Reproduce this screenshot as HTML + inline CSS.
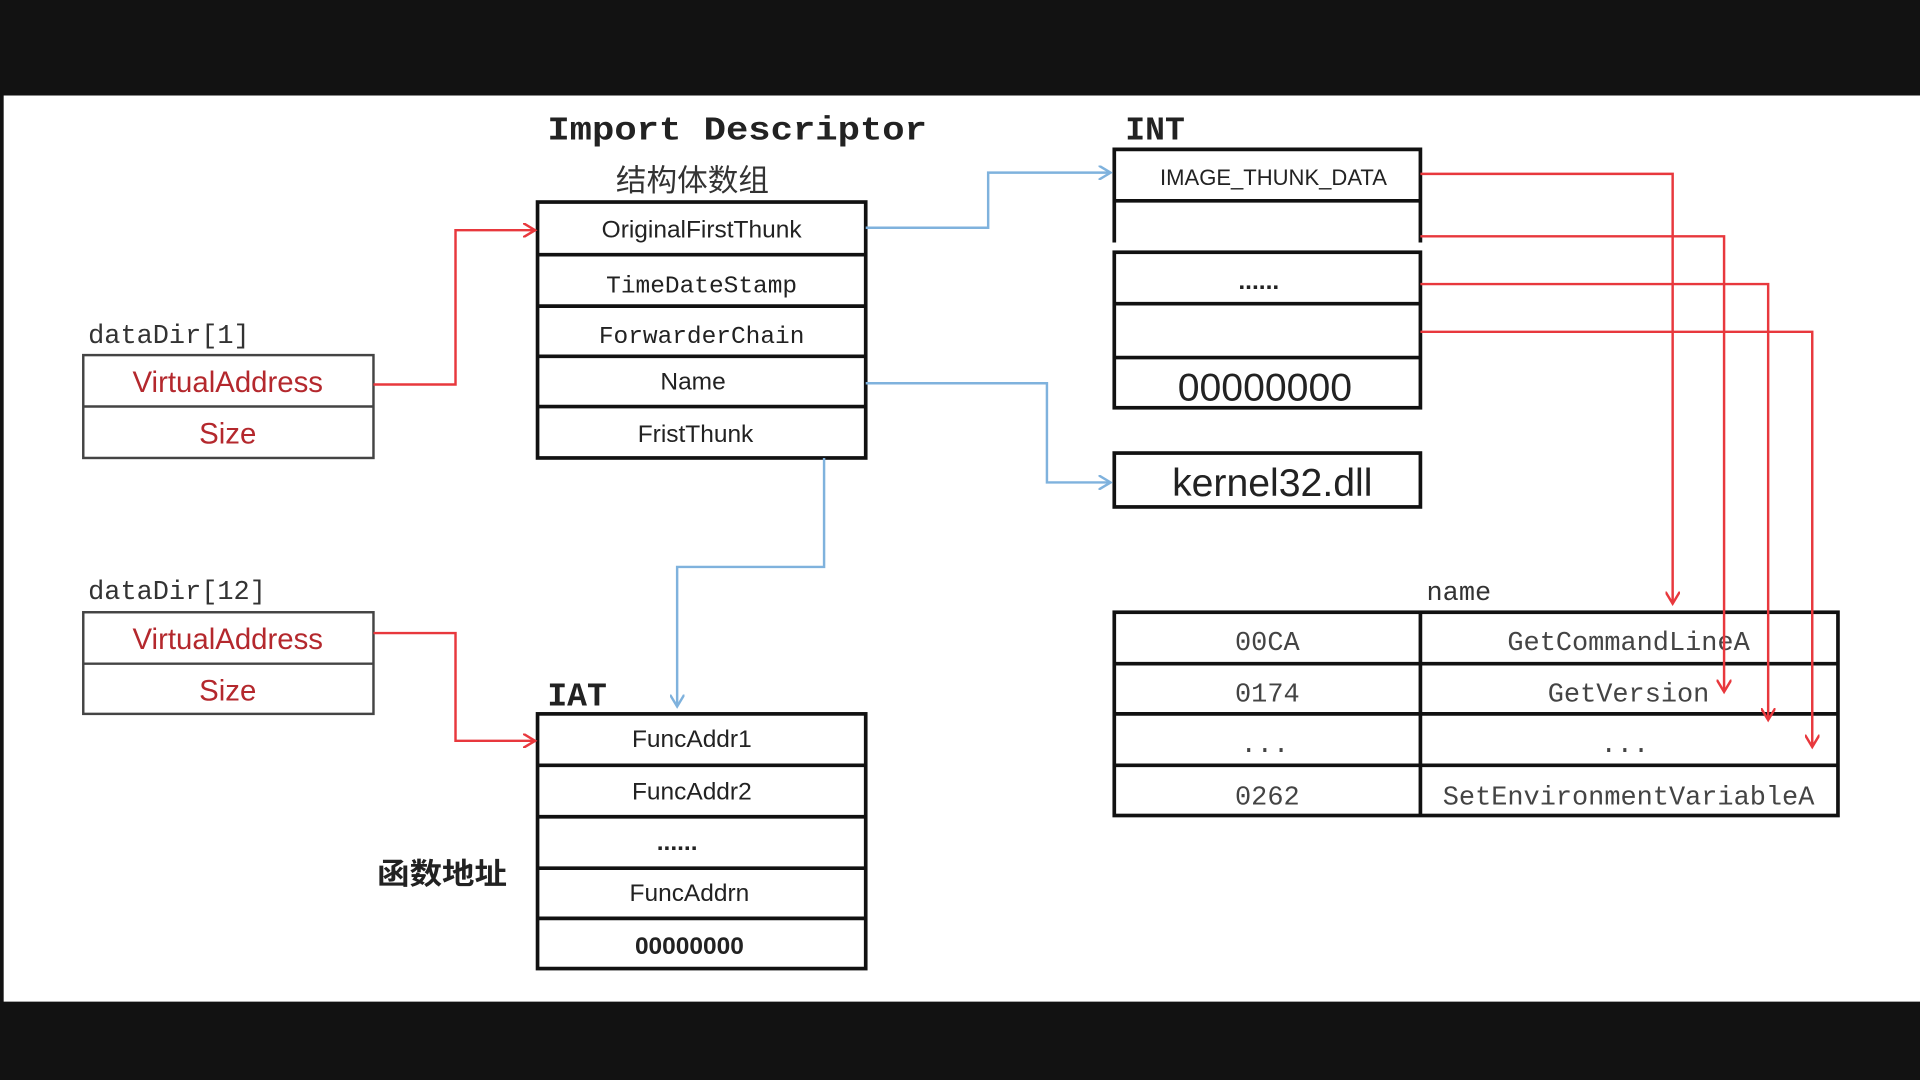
<!DOCTYPE html>
<html><head><meta charset="utf-8"><style>html,body{margin:0;padding:0;background:#111;}svg{display:block}</style></head>
<body>
<svg width="1920" height="1080" viewBox="0 0 1568 882" preserveAspectRatio="none" xmlns="http://www.w3.org/2000/svg">
<rect x="0" y="0" width="1568" height="882" fill="#121212"/>
<rect x="3" y="78" width="1565" height="740" fill="#fff"/>
<defs>
<marker id="ar" markerWidth="12" markerHeight="12" refX="10" refY="6" orient="auto" markerUnits="userSpaceOnUse"><path d="M0,0 L10,6 L0,12" fill="none" stroke="#e8383d" stroke-width="2"/></marker>
<marker id="ab" markerWidth="12" markerHeight="12" refX="10" refY="6" orient="auto" markerUnits="userSpaceOnUse"><path d="M0,0 L10,6 L0,12" fill="none" stroke="#7fb2dd" stroke-width="2"/></marker>
</defs>
<g font-family="Liberation Mono, monospace" font-weight="bold" fill="#222">
<text x="447" y="114" font-size="27" textLength="310" lengthAdjust="spacingAndGlyphs">Import Descriptor</text>
<text x="919" y="114" font-size="27">INT</text>
<text x="447" y="576" font-size="27">IAT</text>
</g>
<text x="503" y="156" font-size="25" font-family="Noto Sans CJK SC, sans-serif" fill="#333">结构体数组</text>
<text x="308" y="722" font-size="24" font-weight="bold" font-family="Noto Sans CJK SC, sans-serif" fill="#222" textLength="106" lengthAdjust="spacingAndGlyphs">函数地址</text>
<g font-family="Liberation Mono, monospace" font-size="22" fill="#333">
<text x="72" y="280">dataDir[1]</text>
<text x="72" y="489">dataDir[12]</text>
<text x="1165" y="490">name</text>
</g>
<g fill="none" stroke="#444" stroke-width="2">
<rect x="68" y="290" width="237" height="84"/><line x1="68" y1="332" x2="305" y2="332"/>
<rect x="68" y="500" width="237" height="83"/><line x1="68" y1="542" x2="305" y2="542"/>
</g>
<g font-family="Liberation Sans, sans-serif" font-size="24" fill="#b4282d" text-anchor="middle">
<text x="186" y="320">VirtualAddress</text><text x="186" y="362">Size</text>
<text x="186" y="530">VirtualAddress</text><text x="186" y="572">Size</text>
</g>
<g fill="none" stroke="#111" stroke-width="3">
<rect x="439" y="165" width="268" height="209"/>
<line x1="439" y1="208" x2="707" y2="208"/><line x1="439" y1="250" x2="707" y2="250"/><line x1="439" y1="291" x2="707" y2="291"/><line x1="439" y1="332" x2="707" y2="332"/>
<rect x="439" y="583" width="268" height="208"/>
<line x1="439" y1="625" x2="707" y2="625"/><line x1="439" y1="667" x2="707" y2="667"/><line x1="439" y1="709" x2="707" y2="709"/><line x1="439" y1="750" x2="707" y2="750"/>
</g>
<g font-family="Liberation Sans, sans-serif" font-size="20" fill="#222" text-anchor="middle">
<text x="573" y="194">OriginalFirstThunk</text>
<text x="573" y="239" font-family="Liberation Mono, monospace">TimeDateStamp</text>
<text x="573" y="280" font-family="Liberation Mono, monospace">ForwarderChain</text>
<text x="566" y="318">Name</text>
<text x="568" y="361">FristThunk</text>
<text x="565" y="610">FuncAddr1</text>
<text x="565" y="653">FuncAddr2</text>
<text x="553" y="694" font-weight="bold">......</text>
<text x="563" y="736">FuncAddrn</text>
<text x="563" y="779" font-weight="bold">00000000</text>
</g>
<g fill="none" stroke="#111" stroke-width="3">
<polyline points="910,198 910,122 1160,122 1160,198"/>
<line x1="910" y1="164" x2="1160" y2="164"/>
<rect x="910" y="206" width="250" height="127"/>
<line x1="910" y1="248" x2="1160" y2="248"/><line x1="910" y1="292" x2="1160" y2="292"/>
<rect x="910" y="370" width="250" height="44"/>
</g>
<g font-family="Liberation Sans, sans-serif" fill="#222" text-anchor="middle">
<text x="1040" y="151" font-size="18">IMAGE_THUNK_DATA</text>
<text x="1028" y="236" font-size="20" font-weight="bold">......</text>
<text x="1033" y="327" font-size="32">00000000</text>
<text x="1039" y="405" font-size="32">kernel32.dll</text>
</g>
<g fill="none" stroke="#111" stroke-width="3">
<rect x="910" y="500" width="591" height="166"/>
<line x1="910" y1="542" x2="1501" y2="542"/><line x1="910" y1="583" x2="1501" y2="583"/><line x1="910" y1="625" x2="1501" y2="625"/>
<line x1="1160" y1="500" x2="1160" y2="666"/>
</g>
<g font-family="Liberation Mono, monospace" font-size="22" fill="#444" text-anchor="middle">
<text x="1035" y="531">00CA</text><text x="1330" y="531">GetCommandLineA</text>
<text x="1035" y="573">0174</text><text x="1330" y="573">GetVersion</text>
<text x="1033" y="614">...</text><text x="1327" y="614">...</text>
<text x="1035" y="657">0262</text><text x="1330" y="657">SetEnvironmentVariableA</text>
</g>
<g fill="none" stroke="#e8383d" stroke-width="2">
<polyline points="305,314 372,314 372,188 437,188" marker-end="url(#ar)"/>
<polyline points="305,517 372,517 372,605 437,605" marker-end="url(#ar)"/>
<polyline points="1160,142 1366,142 1366,493" marker-end="url(#ar)"/>
<polyline points="1160,193 1408,193 1408,565" marker-end="url(#ar)"/>
<polyline points="1160,232 1444,232 1444,588" marker-end="url(#ar)"/>
<polyline points="1160,271 1480,271 1480,610" marker-end="url(#ar)"/>
</g>
<g fill="none" stroke="#7fb2dd" stroke-width="2">
<polyline points="707,186 807,186 807,141 907,141" marker-end="url(#ab)"/>
<polyline points="707,313 855,313 855,394 907,394" marker-end="url(#ab)"/>
<polyline points="673,374 673,463 553,463 553,577" marker-end="url(#ab)"/>
</g>
</svg>
</body></html>
